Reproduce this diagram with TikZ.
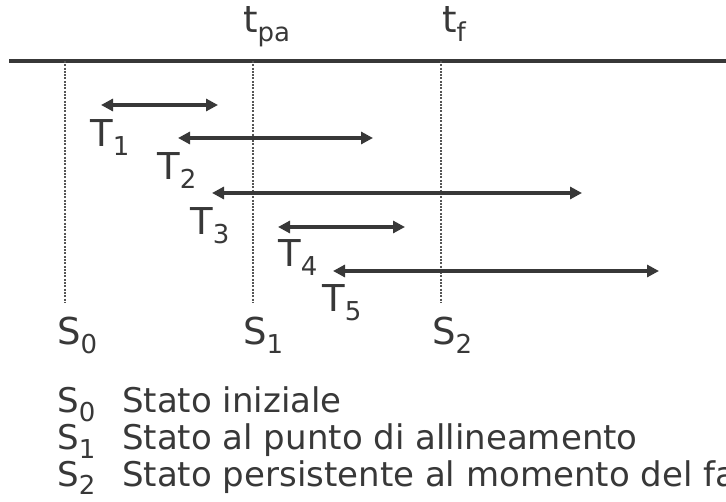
\documentclass[tikz,border=0pt]{standalone}
\usepackage{fontspec}
\setmainfont{DejaVu Sans}
\usetikzlibrary{arrows.meta}
\definecolor{ink}{HTML}{383838}
\newcommand{\lowidx}[1]{\raisebox{-9pt}{\fontsize{26}{26}\selectfont #1}}

\begin{document}
\begin{tikzpicture}[
    x=1pt, y=-1pt,
    every node/.style={inner sep=0pt, text=ink, anchor=base west},
    lblText/.style={font=\fontsize{37}{40}\selectfont},
    legendText/.style={font=\fontsize{34}{38}\selectfont},
    timeLine/.style={line width=4.5pt, draw=ink},
    stateLine/.style={line width=2pt, draw=ink!85, dash pattern=on 2pt off 1.3pt},
    spanArrow/.style={<->, >={Triangle[length=12pt, width=12pt]}, line width=3.5pt, draw=ink}
]
    \path[use as bounding box, clip] (0,0) rectangle (726,502);

    % Asse dei tempi
    \coordinate (axisL) at (9,61);
    \coordinate (axisR) at (726,61);
    \draw[timeLine] (axisL) -- (axisR);
    \node[lblText] (tpa) at (243,33) {t\lowidx{pa}};
    \node[lblText] (tf) at (442,33) {t\lowidx{f}};

    % Stati (linee tratteggiate)
    \coordinate (s0top) at (65,61);   \coordinate (s0bot) at (65,303);
    \coordinate (s1top) at (253,61);  \coordinate (s1bot) at (253,303);
    \coordinate (s2top) at (441,61);  \coordinate (s2bot) at (441,303);
    \draw[stateLine] (s0top) -- (s0bot);
    \draw[stateLine] (s1top) -- (s1bot);
    \draw[stateLine] (s2top) -- (s2bot);
    \node[lblText] (S0) at (57,345) {S\lowidx{0}};
    \node[lblText] (S1) at (243,345) {S\lowidx{1}};
    \node[lblText] (S2) at (432,345) {S\lowidx{2}};

    % Transazioni
    \coordinate (t1a) at (101,105);  \coordinate (t1b) at (218,105);
    \coordinate (t2a) at (178,138);  \coordinate (t2b) at (373,138);
    \coordinate (t3a) at (212,193);  \coordinate (t3b) at (582,193);
    \coordinate (t4a) at (278,227);  \coordinate (t4b) at (405,227);
    \coordinate (t5a) at (333,271);  \coordinate (t5b) at (659,271);
    \draw[spanArrow] (t1a) -- (t1b);
    \draw[spanArrow] (t2a) -- (t2b);
    \draw[spanArrow] (t3a) -- (t3b);
    \draw[spanArrow] (t4a) -- (t4b);
    \draw[spanArrow] (t5a) -- (t5b);
    \node[lblText] (T1) at (90,147) {T\lowidx{1}};
    \node[lblText] (T2) at (157,180) {T\lowidx{2}};
    \node[lblText] (T3) at (190,235) {T\lowidx{3}};
    \node[lblText] (T4) at (278,267) {T\lowidx{4}};
    \node[lblText] (T5) at (322,312) {T\lowidx{5}};

    % Legenda
    \node[legendText] (keyS0) at (57,413) {S\lowidx{0}};
    \node[legendText] (keyS1) at (57,450) {S\lowidx{1}};
    \node[legendText] (keyS2) at (57,486) {S\lowidx{2}};
    \node[legendText] (descS0) at (122,413) {Stato iniziale};
    \node[legendText] (descS1) at (122,450) {Stato al punto di allineamento};
    \node[legendText] (descS2) at (122,486) {Stato persistente al momento del fallimento};
\end{tikzpicture}
\end{document}
